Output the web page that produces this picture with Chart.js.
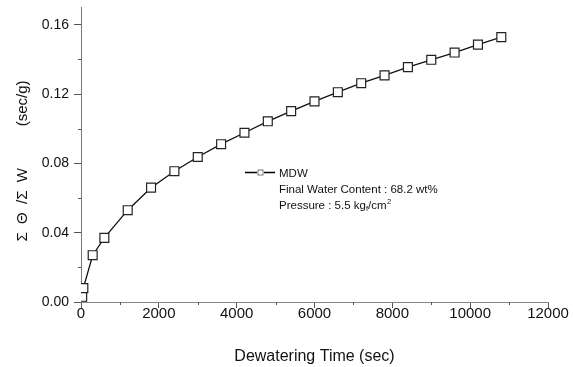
<!DOCTYPE html>
<html><head><meta charset="utf-8">
<script src="https://cdn.jsdelivr.net/npm/chart.js@4"></script>
<style>html,body{margin:0;padding:0;background:#fff}</style>
</head><body>
<canvas id="c" width="573" height="367" style="display:block;width:573px;height:367px"></canvas>
<script>
// ---- data ----
const times = [0, 30, 60, 300, 600, 1200, 1800, 2400, 3000, 3600, 4200, 4800, 5400, 6000, 6600, 7200, 7800, 8400, 9000, 9600, 10200, 10800];
const values = [0.0, 0.003, 0.008, 0.027, 0.037, 0.053, 0.066, 0.0755, 0.0837, 0.0911, 0.0977, 0.1043, 0.1102, 0.1158, 0.1211, 0.1263, 0.1308, 0.1356, 0.1398, 0.1440, 0.1486, 0.1529];
const xTickValues = [0, 2000, 4000, 6000, 8000, 10000, 12000];
const xMinorTicks = [1000, 3000, 5000, 7000, 9000, 11000];
const yTickValues = [0.00, 0.04, 0.08, 0.12, 0.16];
const yMinorTicks = [0.02, 0.06, 0.10, 0.14];
const seriesName = 'MDW';
const noteLine1 = 'Final Water Content : 68.2 wt%';
const notePressure = ['Pressure : 5.5 kg', 'f', '/cm', '2'];
const xTitle = 'Dewatering Time (sec)';
const yTitle = 'Σ  Θ  /Σ  W          (sec/g)   ';

const FONT = "'Liberation Sans', Arial, Helvetica, sans-serif";

const minorTicksPlugin = {
  id: 'minorTicks',
  afterDraw(chart) {
    const {ctx, scales: {x, y}} = chart;
    ctx.save();
    ctx.strokeStyle = '#555';
    ctx.lineWidth = 1;
    ctx.beginPath();
    xMinorTicks.forEach(v => {
      const px = Math.round(x.getPixelForValue(v)) + 0.5;
      ctx.moveTo(px, y.bottom);
      ctx.lineTo(px, y.bottom + 3);
    });
    yMinorTicks.forEach(v => {
      const py = Math.round(y.getPixelForValue(v)) + 0.5;
      ctx.moveTo(x.left, py);
      ctx.lineTo(x.left - 3, py);
    });
    ctx.stroke();
    ctx.restore();
  }
};

const notePlugin = {
  id: 'note',
  afterDraw(chart) {
    const {ctx, chartArea: a} = chart;
    const lx = a.left + 164, ly = a.top + 165;
    ctx.save();
    ctx.strokeStyle = '#000';
    ctx.lineWidth = 1.3;
    ctx.beginPath();
    ctx.moveTo(lx, ly); ctx.lineTo(lx + 12, ly);
    ctx.moveTo(lx + 19, ly); ctx.lineTo(lx + 30, ly);
    ctx.stroke();
    ctx.lineWidth = 0.8;
    ctx.strokeStyle = '#555';
    ctx.strokeRect(lx + 13, ly - 2.5, 5, 5);
    ctx.fillStyle = '#111';
    ctx.textBaseline = 'alphabetic';
    ctx.font = '11.5px ' + FONT;
    const tx = lx + 34;
    ctx.fillText(seriesName, tx, ly + 4);
    ctx.fillText(noteLine1, tx, ly + 20.5);
    let cx = tx;
    const by = ly + 36;
    ctx.fillText(notePressure[0], cx, by); cx += ctx.measureText(notePressure[0]).width;
    ctx.font = '7.5px ' + FONT;
    ctx.fillText(notePressure[1], cx, by + 2.5); cx += ctx.measureText(notePressure[1]).width;
    ctx.font = '11.5px ' + FONT;
    ctx.fillText(notePressure[2], cx, by); cx += ctx.measureText(notePressure[2]).width + 0.5;
    ctx.font = '7.5px ' + FONT;
    ctx.fillText(notePressure[3], cx, by - 5);
    ctx.restore();
  }
};

new Chart(document.getElementById('c'), {
  type: 'scatter',
  data: {
    datasets: [{
      label: seriesName,
      data: times.map((t, i) => ({x: t, y: values[i]})),
      showLine: true,
      borderColor: '#111',
      borderWidth: 1.3,
      pointStyle: 'rect',
      pointRadius: 6.3,
      pointBackgroundColor: '#fff',
      pointBorderColor: '#222',
      pointBorderWidth: 1.2,
      tension: 0
    }]
  },
  options: {
    responsive: false,
    animation: false,
    devicePixelRatio: 1,
    layout: {padding: {left: 0, top: 7, right: 25, bottom: 0}},
    plugins: {legend: {display: false}, tooltip: {enabled: false}},
    scales: {
      x: {
        type: 'linear', min: 0, max: 12000,
        afterBuildTicks: s => { s.ticks = xTickValues.map(v => ({value: v})); },
        afterFit: s => { s.height = 65; s.paddingLeft = 0; s.paddingRight = 0; },
        ticks: {
          callback: v => String(v), color: '#111', padding: -3,
          font: {family: FONT, size: 15}, maxRotation: 0, autoSkip: false
        },
        grid: {drawOnChartArea: false, drawTicks: true, tickLength: 6, tickColor: '#555'},
        border: {display: true, color: '#888', width: 1, dash: [3, 1]},
        title: {display: true, text: xTitle, color: '#111', font: {family: FONT, size: 16}, padding: {top: 0, bottom: 1}}
      },
      y: {
        type: 'linear', min: 0, max: 0.17,
        afterBuildTicks: s => { s.ticks = yTickValues.map(v => ({value: v})); },
        afterFit: s => { s.width = 81; s.paddingTop = 0; s.paddingBottom = 0; },
        ticks: {
          callback: v => Number(v).toFixed(2), color: '#111', padding: 5,
          font: {family: FONT, size: 14}, autoSkip: false
        },
        grid: {drawOnChartArea: false, drawTicks: true, tickLength: 7, tickColor: '#555'},
        border: {display: true, color: '#777', width: 1},
        title: {display: true, text: yTitle, color: '#111', font: {family: FONT, size: 15}, padding: {top: 14, bottom: 0}}
      }
    }
  },
  plugins: [minorTicksPlugin, notePlugin]
});
</script>
</body></html>
